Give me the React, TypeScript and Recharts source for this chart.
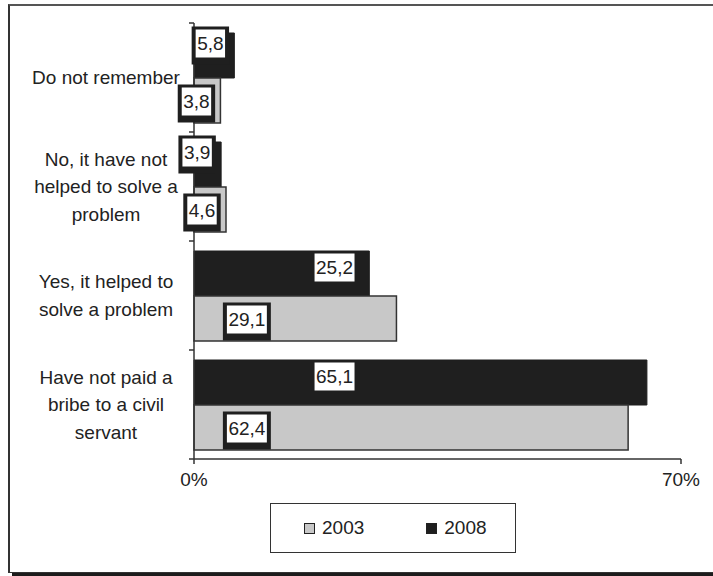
import React from "react";
import { BarChart, Bar, XAxis, YAxis, LabelList } from "recharts";

// categories, top to bottom
const categories = [
  "Do not remember",
  "No, it have not helped to solve a problem",
  "Yes, it helped to solve a problem",
  "Have not paid a bribe to a civil servant",
];
const categoryLines = [
  ["Do not remember"],
  ["No, it have not", "helped to solve a", "problem"],
  ["Yes, it helped to", "solve a problem"],
  ["Have not paid a", "bribe to a civil", "servant"],
];
const values2003 = [3.8, 4.6, 29.1, 62.4];
const values2008 = [5.8, 3.9, 25.2, 65.1];
const xTicks = [0, 70];

const data = categories.map((name, i) => ({
  name,
  y2003: values2003[i],
  y2008: values2008[i],
}));

const FONT = "'Liberation Sans', Arial, sans-serif";
const FS = 19;
const INK = "#222";
const GRAY = "#c8c8c8";
const BLACK = "#1f1f1f";

const W = 713;
const H = 576;
const Y_AXIS_W = 186;
const MARGIN = { top: 23, right: 32, bottom: 87, left: 8 };
const PLOT_LEFT = MARGIN.left + Y_AXIS_W;

const fmt = (v: number) => v.toFixed(1).replace(".", ",");
const textWidth = (s: string) =>
  s.split("").reduce((w, c) => w + (c === "," ? 0.278 : 0.556), 0) * FS;

// where the label sits along a long bar (in data units), per series
const labelAnchor: Record<string, number> = { y2008: 20.2, y2003: 7.6 };

const makeLabel = (key: string) => (props: any) => {
  const vb = props.viewBox && props.viewBox.width != null ? props.viewBox : props;
  const x = Number(vb.x);
  const y = Number(vb.y);
  const width = Number(vb.width);
  const height = Number(vb.height);
  const value = Number(props.value);
  const text = fmt(value);
  const iw = textWidth(text) + 3;
  const ih = 28;
  const small = value < 10;
  const cx = small ? x + width - 24 : x + (width / value) * labelAnchor[key];
  const dy = key === "y2008" ? (small ? -12 : -6) : 1;
  const cy = y + height / 2 + dy;
  const framed = !(key === "y2008" && !small);
  return (
    <g>
      {framed && (
        <rect x={cx - iw / 2 - 4} y={cy - ih / 2 - 3} width={iw + 8} height={ih + 10} fill={BLACK} />
      )}
      <rect x={cx - iw / 2} y={cy - ih / 2} width={iw} height={ih} fill="#fff" />
      <text
        x={cx}
        y={cy}
        textAnchor="middle"
        dominantBaseline="central"
        fontSize={FS}
        fontFamily={FONT}
        fill={INK}
      >
        {text}
      </text>
    </g>
  );
};

const CategoryTick = (props: any) => {
  const { y, payload } = props;
  const idx = categories.indexOf(payload.value);
  const lines = categoryLines[idx] || [payload.value];
  const half = payload.offset || 54.5;
  const lh = 27.5;
  const startY = y - ((lines.length - 1) * lh) / 2;
  return (
    <g>
      {idx === 0 && (
        <line x1={PLOT_LEFT - 5} x2={PLOT_LEFT} y1={y - half} y2={y - half} stroke="#333" strokeWidth={1.5} />
      )}
      <line x1={PLOT_LEFT - 5} x2={PLOT_LEFT} y1={y + half} y2={y + half} stroke="#333" strokeWidth={1.5} />
      <text textAnchor="middle" fontSize={FS} fontFamily={FONT} fill={INK}>
        {lines.map((l: string, i: number) => (
          <tspan key={i} x={106} y={startY + i * lh} dy="0.35em">
            {l}
          </tspan>
        ))}
      </text>
    </g>
  );
};

const legendItems = [
  { label: "2003", color: GRAY },
  { label: "2008", color: BLACK },
];

export default function App() {
  return (
    <div
      style={{
        position: "absolute",
        left: 0,
        top: 0,
        width: W,
        height: H,
        overflow: "hidden",
        background: "#fff",
        fontFamily: FONT,
      }}
    >
      <div
        style={{
          position: "absolute",
          left: 8,
          top: 4,
          width: 740,
          height: 569,
          boxSizing: "border-box",
          borderLeft: "2px solid #333",
          borderTop: "2px solid #555",
          borderBottom: "1px solid #333",
          boxShadow: "4px 4px 0 #1c1c1c",
        }}
      />
      <div style={{ position: "absolute", left: 0, top: 0 }}>
        <BarChart
          width={W}
          height={H}
          data={data}
          layout="vertical"
          margin={MARGIN}
          barSize={45}
          barGap={0}
        >
          <XAxis
            type="number"
            domain={[0, 70]}
            ticks={xTicks}
            tickFormatter={(v) => `${v}%`}
            axisLine={{ stroke: "#333", strokeWidth: 1.5 }}
            tickLine={{ stroke: "#333", strokeWidth: 1.5 }}
            tickSize={5}
            tickMargin={9}
            height={30}
            tick={{ fill: INK, fontSize: FS, fontFamily: FONT }}
          />
          <XAxis
            xAxisId="top"
            orientation="top"
            type="number"
            domain={[0, 70]}
            tick={false}
            tickLine={false}
            height={0}
            axisLine={{ stroke: "#a8a8a8", strokeWidth: 2 }}
          />
          <YAxis
            type="category"
            dataKey="name"
            width={Y_AXIS_W}
            axisLine={{ stroke: "#333", strokeWidth: 1.5 }}
            tickLine={false}
            tick={<CategoryTick />}
            interval={0}
          />
          <YAxis
            yAxisId="right"
            orientation="right"
            type="category"
            dataKey="name"
            width={0}
            tick={false}
            tickLine={false}
            axisLine={{ stroke: "#a8a8a8", strokeWidth: 2 }}
          />
          <Bar dataKey="y2008" name="2008" fill={BLACK} stroke={BLACK} strokeWidth={1} isAnimationActive={false}>
            <LabelList dataKey="y2008" content={makeLabel("y2008")} />
          </Bar>
          <Bar dataKey="y2003" name="2003" fill={GRAY} stroke="#333" strokeWidth={1.5} isAnimationActive={false}>
            <LabelList dataKey="y2003" content={makeLabel("y2003")} />
          </Bar>
        </BarChart>
      </div>
      <div
        style={{
          position: "absolute",
          left: 270,
          top: 503,
          width: 246,
          height: 50,
          boxSizing: "border-box",
          border: "1.5px solid #333",
          display: "flex",
          alignItems: "center",
          paddingLeft: 33,
          gap: 62,
          fontSize: FS,
          color: INK,
        }}
      >
        {legendItems.map((it) => (
          <div key={it.label} style={{ display: "flex", alignItems: "center" }}>
            <span
              style={{
                display: "inline-block",
                width: 11,
                height: 11,
                boxSizing: "border-box",
                background: it.color,
                border: "1px solid #222",
                marginRight: 7,
              }}
            />
            <span>{it.label}</span>
          </div>
        ))}
      </div>
    </div>
  );
}
